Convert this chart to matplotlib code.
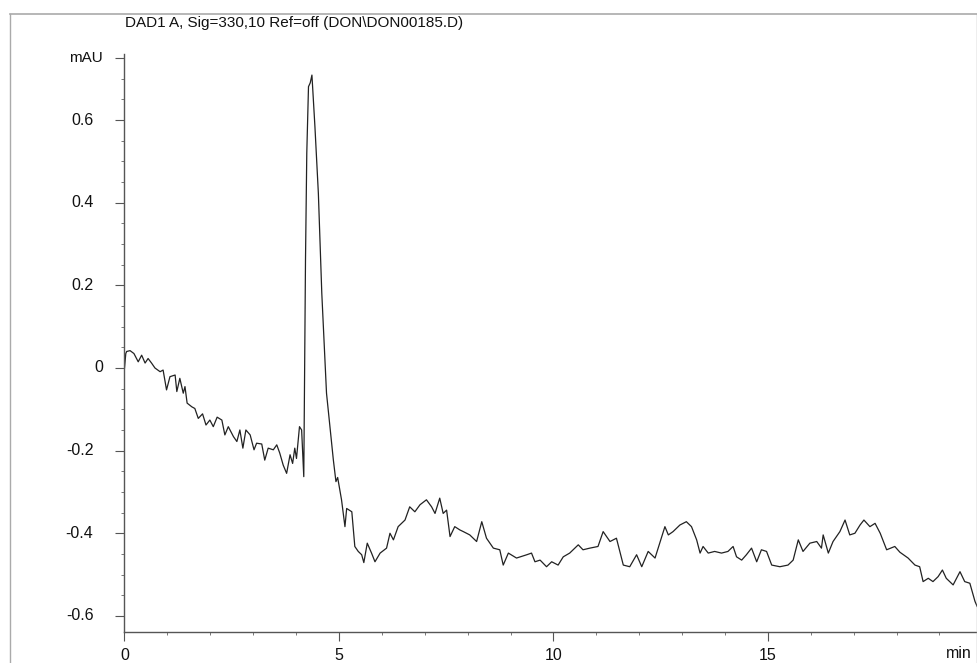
import matplotlib.pyplot as plt
from matplotlib.lines import Line2D
from matplotlib.ticker import MultipleLocator

time_min = [0.00, 0.03, 0.05, 0.13, 0.22, 0.32, 0.40, 0.48, 0.55, 0.63, 0.71, 0.83, 0.90,
            0.98, 1.06, 1.18, 1.22, 1.29, 1.37, 1.41, 1.46, 1.57, 1.64, 1.72, 1.82, 1.90,
            1.99, 2.07, 2.16, 2.27, 2.34, 2.42, 2.54, 2.62, 2.69, 2.76, 2.83, 2.93, 3.02,
            3.08, 3.20, 3.27, 3.35, 3.47, 3.55, 3.62, 3.70, 3.78, 3.86, 3.92, 3.97, 4.01,
            4.08, 4.13, 4.18, 4.22, 4.25, 4.29, 4.33, 4.37, 4.44, 4.52, 4.60, 4.71, 4.87,
            4.93, 4.97, 5.06, 5.14, 5.18, 5.30, 5.37, 5.45, 5.53, 5.58, 5.66, 5.76, 5.84,
            5.96, 6.11, 6.19, 6.27, 6.38, 6.54, 6.65, 6.77, 6.89, 7.04, 7.16, 7.24, 7.35,
            7.43, 7.51, 7.59, 7.70, 7.82, 7.90, 8.05, 8.21, 8.33, 8.44, 8.60, 8.75, 8.83,
            8.95, 9.14, 9.38, 9.49, 9.57, 9.69, 9.84, 9.96, 10.11, 10.23, 10.38, 10.58,
            10.69, 10.85, 11.04, 11.16, 11.32, 11.47, 11.63, 11.78, 11.94, 12.06, 12.21,
            12.37, 12.48, 12.60, 12.68, 12.79, 12.95, 13.10, 13.22, 13.34, 13.42, 13.49,
            13.61, 13.76, 13.92, 14.07, 14.19, 14.27, 14.39, 14.50, 14.62, 14.74, 14.85,
            14.97, 15.09, 15.28, 15.47, 15.59, 15.71, 15.82, 15.98, 16.14, 16.25, 16.29,
            16.41, 16.52, 16.68, 16.80, 16.91, 17.03, 17.15, 17.24, 17.38, 17.50, 17.62,
            17.77, 17.96, 18.08, 18.27, 18.43, 18.54, 18.62, 18.74, 18.85, 18.97, 19.07,
            19.16, 19.32, 19.48, 19.59, 19.71, 19.83, 19.88]
mau = [0.000, 0.035, 0.040, 0.042, 0.035, 0.015, 0.031, 0.012, 0.023, 0.012, 0.000, -0.009,
       -0.005, -0.053, -0.021, -0.017, -0.057, -0.025, -0.061, -0.045, -0.085, -0.094,
       -0.098, -0.122, -0.111, -0.138, -0.126, -0.142, -0.119, -0.126, -0.162, -0.142,
       -0.166, -0.178, -0.150, -0.194, -0.150, -0.162, -0.198, -0.182, -0.184, -0.223,
       -0.194, -0.198, -0.186, -0.206, -0.235, -0.255, -0.210, -0.231, -0.194, -0.219,
       -0.142, -0.150, -0.263, 0.261, 0.520, 0.681, 0.690, 0.709, 0.584, 0.423, 0.181,
       -0.061, -0.223, -0.275, -0.265, -0.319, -0.384, -0.340, -0.348, -0.432, -0.444,
       -0.452, -0.471, -0.424, -0.448, -0.469, -0.448, -0.436, -0.400, -0.416, -0.384,
       -0.368, -0.336, -0.348, -0.331, -0.319, -0.336, -0.352, -0.315, -0.352, -0.344,
       -0.408, -0.384, -0.392, -0.396, -0.404, -0.420, -0.372, -0.412, -0.436, -0.440,
       -0.477, -0.448, -0.460, -0.452, -0.448, -0.469, -0.465, -0.481, -0.469, -0.477,
       -0.457, -0.448, -0.428, -0.440, -0.436, -0.432, -0.396, -0.420, -0.412, -0.477,
       -0.481, -0.452, -0.481, -0.444, -0.460, -0.424, -0.384, -0.404, -0.396, -0.380,
       -0.372, -0.384, -0.416, -0.448, -0.432, -0.448, -0.444, -0.448, -0.444, -0.432,
       -0.457, -0.465, -0.452, -0.436, -0.469, -0.440, -0.444, -0.477, -0.481, -0.477,
       -0.465, -0.416, -0.444, -0.424, -0.420, -0.436, -0.404, -0.448, -0.420, -0.396,
       -0.368, -0.404, -0.400, -0.380, -0.368, -0.384, -0.376, -0.400, -0.440, -0.432,
       -0.446, -0.460, -0.477, -0.481, -0.517, -0.509, -0.517, -0.505, -0.489, -0.509,
       -0.525, -0.493, -0.517, -0.521, -0.565, -0.577]

y_ticks = [-0.6, -0.4, -0.2, 0, 0.2, 0.4, 0.6]
y_labels = ["-0.6", "-0.4", "-0.2", "0", "0.2", "0.4", "0.6"]
x_ticks = [0, 5, 10, 15]
x_labels = ["0", "5", "10", "15"]
title = "DAD1 A, Sig=330,10 Ref=off (DON\\DON00185.D)"

plt.rcParams["font.family"] = ["Liberation Sans", "DejaVu Sans"]

fig = plt.figure(figsize=(9.78, 6.63), dpi=100)
W, H = 978, 663
ax = fig.add_axes([124.5 / W, 31 / H, (978 - 124.5) / W, (632 - 54) / H])

ax.plot(time_min, mau, color="#222222", linewidth=0.9)

ax.set_xlim(0, 19.9)
ax.set_ylim(-0.639, 0.760)

for s in ["top", "right"]:
    ax.spines[s].set_visible(False)
for s in ["left", "bottom"]:
    ax.spines[s].set_color("#555555")
    ax.spines[s].set_linewidth(1.0)

ax.set_xticks(x_ticks)
ax.set_xticklabels(x_labels)
ax.xaxis.set_minor_locator(MultipleLocator(1))
ax.set_yticks(y_ticks + [0.75])
ax.set_yticklabels(["" for _ in y_ticks] + [""])
ax.yaxis.set_minor_locator(MultipleLocator(0.05))

ax.tick_params(axis="both", which="major", direction="out", length=6.5, width=0.8,
               color="#555555", labelsize=11.5, labelcolor="#111111")
ax.tick_params(axis="both", which="minor", direction="out", length=2.5, width=0.7,
               color="#777777")
ax.tick_params(axis="x", which="major", pad=5)

# y labels drawn as text so that "0" and "mAU" can sit a bit closer, as in the print
ytr = ax.get_yaxis_transform()
for v, lab in zip(y_ticks, y_labels):
    xpos = -31 / 853.5 if lab != "0" else -21 / 853.5
    ax.text(xpos, v, lab, transform=ytr, ha="right", va="center",
            fontsize=11.5, color="#111111")
ax.text(-22 / 853.5, 0.75, "mAU", transform=ytr, ha="right", va="center",
        fontsize=11, color="#111111")

ax.text(19.45, -0.639, "min", ha="center", va="top", fontsize=11.5, color="#111111",
        transform=ax.transData).set_y(-0.672)

fig.text(125 / W, 1 - 23 / H, title, ha="left", va="center", fontsize=11,
         color="#111111")

# scan frame around the printout
fc = "#aaaaaa"
fig.add_artist(Line2D([10 / W, 977 / W], [1 - 14 / H, 1 - 14 / H], color=fc, lw=1.2))
fig.add_artist(Line2D([10 / W, 10 / W], [0, 1 - 14 / H], color=fc, lw=1.0))
fig.add_artist(Line2D([977 / W, 977 / W], [0, 1 - 14 / H], color=fc, lw=1.0))

fig.savefig("out.png", dpi=100)
